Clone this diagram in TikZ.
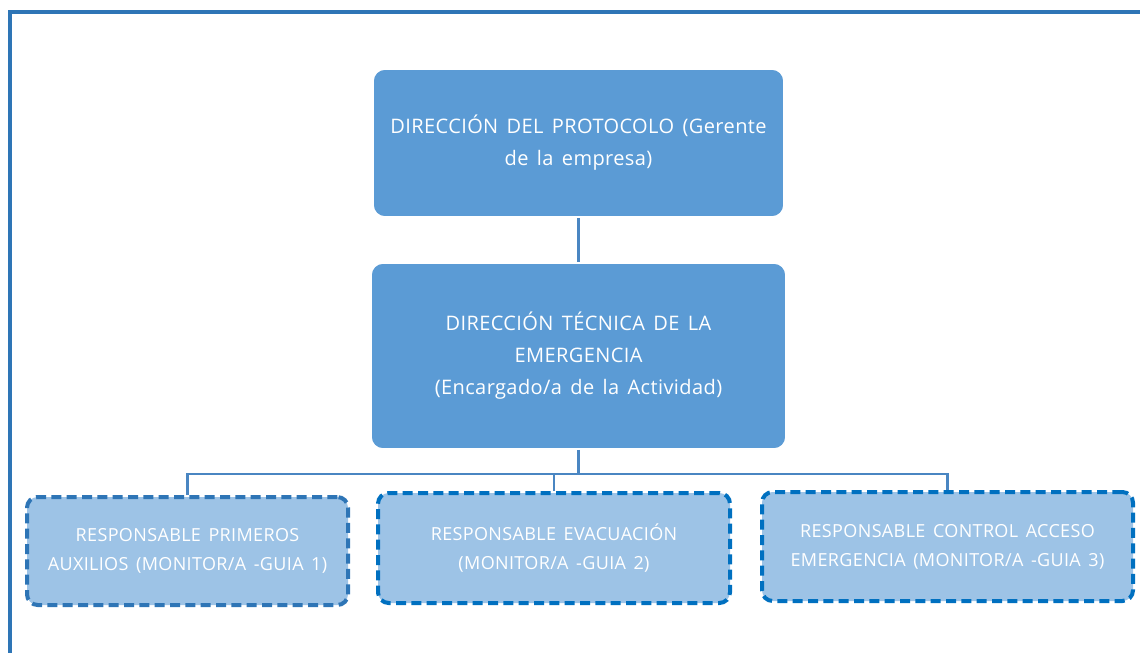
\documentclass[tikz,border=0pt]{standalone}
\usepackage{fontspec}
\setmainfont{Open Sans}
\newfontfamily\boxfont[LetterSpace=2,WordSpace=1.5]{Open Sans}
\usepackage{tikz}

\definecolor{frameblue}{HTML}{2E75B6}
\definecolor{boxblue}{HTML}{5B9BD5}
\definecolor{lightblue}{HTML}{9DC3E6}
\definecolor{dashblue}{HTML}{0070C0}
\definecolor{lineblue}{HTML}{4A86C2}

\tikzset{
  mainbox/.style={draw=white, line width=1.2pt, fill=boxblue, rounded corners=9pt, text=white, align=center, inner sep=0pt, font=\boxfont\fontsize{15}{24}\selectfont},
  rolebox/.style={draw=frameblue, line width=3pt, dash pattern=on 7.5pt off 4pt, fill=lightblue, rounded corners=8pt, text=white, align=center, inner sep=0pt, font=\boxfont\fontsize{13.5}{21.75}\selectfont},
  link/.style={draw=lineblue, line width=1.6pt}
}

\begin{document}
\begin{tikzpicture}[x=0.75pt,y=0.75pt,yscale=-1,xscale=1]
            \useasboundingbox (0,0) rectangle (1140,653);

            % Frame
            \draw[frameblue, line width=3pt] (10,653) -- (10,12) -- (1146,12);

            % Boxes
            \node[mainbox, minimum width=411*0.75pt, minimum height=148*0.75pt] (protocolo) at (578.5,143) {DIRECCIÓN DEL PROTOCOLO (Gerente\\de la empresa)};
            \node[mainbox, minimum width=415*0.75pt, minimum height=186*0.75pt] (tecnica) at (578.5,356) {DIRECCIÓN TÉCNICA DE LA\\EMERGENCIA\\(Encargado/a de la Actividad)};
            \node[rolebox, minimum width=321*0.75pt, minimum height=108*0.75pt] (auxilios) at (187.5,551) {RESPONSABLE PRIMEROS\\AUXILIOS (MONITOR/A -GUIA 1)};
            \node[rolebox, draw=dashblue, minimum width=352*0.75pt, minimum height=110*0.75pt] (evacuacion) at (554,548) {RESPONSABLE EVACUACIÓN\\(MONITOR/A -GUIA 2)};
            \node[rolebox, draw=dashblue, minimum width=371*0.75pt, minimum height=109*0.75pt] (acceso) at (947.5,546.5) {RESPONSABLE CONTROL ACCESO\\EMERGENCIA (MONITOR/A -GUIA 3)};

            % Lines
            \draw[link] (protocolo.south) -- (tecnica.north);
            \draw[link] (tecnica.south) -- ++(0,24) coordinate (hub);
            \draw[link] (auxilios.north) |- (hub) -| (acceso.north);
            \draw[link] (evacuacion.north) |- (hub);

            \end{tikzpicture}
\end{document}
